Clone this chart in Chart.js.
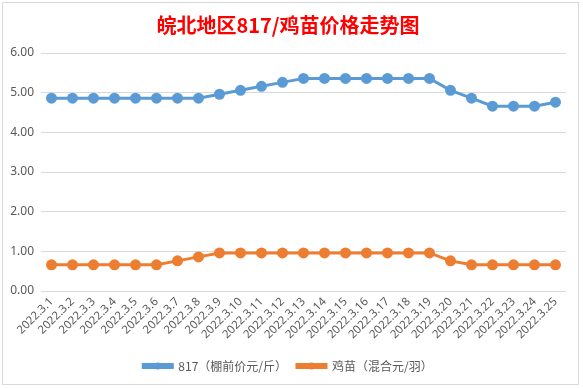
<!DOCTYPE html>
<html>
<head>
<meta charset="utf-8">
<script src="https://cdn.jsdelivr.net/npm/chart.js@4"></script>
<style>
    body { margin: 0; background: #fff; }
    #wrap { position: relative; width: 583px; height: 388px; }
    #frame { position: absolute; left: 2px; top: 2px; width: 575px; height: 381px; border: 1px solid #d9d9d9; pointer-events: none; }
</style>
</head>
<body>
<div id="wrap">
    <canvas id="chart" width="583" height="388"></canvas>
    <div id="frame"></div>
</div>
<script>
const dates = ['2022.3.1', '2022.3.2', '2022.3.3', '2022.3.4', '2022.3.5', '2022.3.6', '2022.3.7', '2022.3.8', '2022.3.9',
    '2022.3.10', '2022.3.11', '2022.3.12', '2022.3.13', '2022.3.14', '2022.3.15', '2022.3.16', '2022.3.17',
    '2022.3.18', '2022.3.19', '2022.3.20', '2022.3.21', '2022.3.22', '2022.3.23', '2022.3.24', '2022.3.25']
const price817 = [4.86, 4.86, 4.86, 4.86, 4.86, 4.86, 4.86, 4.86, 4.96, 5.06, 5.16, 5.26, 5.36, 5.36, 5.36, 5.36, 5.36,
    5.36, 5.36, 5.06, 4.86, 4.66, 4.66, 4.66, 4.76]
const chickPrice = [0.66, 0.66, 0.66, 0.66, 0.66, 0.66, 0.76, 0.86, 0.96, 0.96, 0.96, 0.96, 0.96, 0.96, 0.96, 0.96, 0.96,
    0.96, 0.96, 0.76, 0.66, 0.66, 0.66, 0.66, 0.66]

const BLUE = '#5B9BD5'
const ORANGE = '#ED7D31'
const textFont = '"Noto Sans", "Noto Sans CJK SC", sans-serif'

// put a dot on the middle of each legend line
const legendDots = {
    id: 'legendDots',
    afterDraw(chart) {
        const legend = chart.legend
        if (!legend || !legend.legendHitBoxes) return
        const ctx = chart.ctx
        legend.legendHitBoxes.forEach((box, i) => {
            const ds = chart.data.datasets[i]
            ctx.save()
            ctx.fillStyle = ds.borderColor
            ctx.beginPath()
            ctx.arc(box.left + legend.options.labels.boxWidth / 2, box.top + box.height / 2, 3.5, 0, Math.PI * 2)
            ctx.fill()
            ctx.restore()
        })
    }
}

const series = (label, data, color) => ({
    label,
    data,
    borderColor: color,
    backgroundColor: color,
    borderWidth: 3,
    pointRadius: 4,
    pointHoverRadius: 4,
    pointBackgroundColor: color,
    pointBorderColor: color,
    tension: 0
})

new Chart(document.getElementById('chart').getContext('2d'), {
    type: 'line',
    data: {
        labels: dates,
        datasets: [
            series('817（棚前价元/斤）', price817, BLUE),
            series('鸡苗（混合元/羽）', chickPrice, ORANGE)
        ]
    },
    options: {
        responsive: false,
        animation: false,
        layout: { padding: { left: 10, right: 17, top: 0, bottom: 6 } },
        plugins: {
            title: {
                display: true,
                text: '皖北地区817/鸡苗价格走势图',
                color: '#FF0000',
                font: { family: '"Noto Sans CJK SC", sans-serif', size: 20, weight: 'bold' },
                padding: { top: 13, bottom: 16 }
            },
            legend: {
                position: 'bottom',
                labels: {
                    boxWidth: 29,
                    boxHeight: 3,
                    color: '#595959',
                    font: { family: '"Noto Sans CJK SC", sans-serif', size: 12 },
                    padding: 10
                }
            },
            tooltip: { enabled: false }
        },
        scales: {
            x: {
                offset: true,
                grid: { display: false, drawTicks: false },
                border: { display: false },
                ticks: {
                    color: '#595959',
                    font: { family: textFont, size: 11.5 },
                    maxRotation: 45,
                    minRotation: 45,
                    autoSkip: false,
                    padding: 4
                },
                afterFit: s => { s.height = 59 }
            },
            y: {
                min: 0,
                max: 6,
                grid: { color: '#D9D9D9', drawTicks: false },
                border: { display: false },
                ticks: {
                    stepSize: 1,
                    color: '#595959',
                    font: { family: textFont, size: 12 },
                    padding: 7,
                    callback: v => v.toFixed(2)
                },
                afterFit: s => { s.width = 31 }
            }
        }
    },
    plugins: [legendDots]
})
</script>
</body>
</html>
